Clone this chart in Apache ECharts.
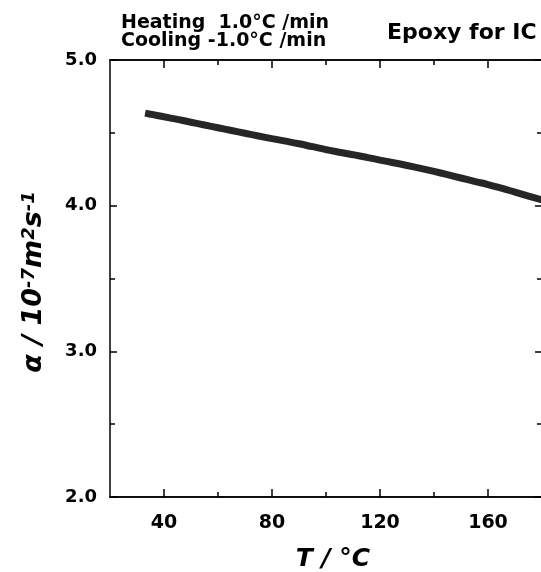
<!DOCTYPE html>
<html>
<head>
<meta charset="utf-8">
<script src="https://cdn.jsdelivr.net/npm/echarts@6/dist/echarts.min.js"></script>
<style>
  html, body { margin: 0; padding: 0; background: #fff; }
  #chart { width: 541px; height: 572px; }
</style>
</head>
<body>
<div id="chart"></div>
<script>
// temperature (°C) and thermal diffusivity (10^-7 m^2/s)
var tempC = [33, 35, 40, 45, 50, 55, 60, 65, 70, 75, 80, 85, 90, 95, 100, 105,
  110, 115, 120, 125, 130, 135, 140, 145, 150, 155, 160, 165, 170, 175, 180];
var alpha = [4.635, 4.628, 4.610, 4.592, 4.573, 4.554, 4.535, 4.516, 4.497, 4.478,
  4.460, 4.443, 4.425, 4.405, 4.385, 4.367, 4.350, 4.332, 4.313, 4.295, 4.276,
  4.256, 4.235, 4.213, 4.190, 4.167, 4.145, 4.120, 4.093, 4.066, 4.040];

var xMajorTicks = [40, 80, 120, 160];
var xMinorTicks = [60, 100, 140];
var yTicks = [2.0, 3.0, 4.0, 5.0];

var titleLines = ['Heating  1.0°C /min', 'Cooling -1.0°C /min'];
var sampleName = 'Epoxy for IC';

var seriesData = [];
for (var i = 0; i < tempC.length; i++) {
  seriesData.push([tempC[i], alpha[i]]);
}

var labelFont = {
  color: '#000',
  fontFamily: 'DejaVu Sans',
  fontWeight: 'bold'
};

function xAxisOf(pos, values, len, withLabels) {
  return {
    type: 'value',
    position: pos,
    min: 20,
    max: 180,
    axisLine: { show: true, lineStyle: { color: '#000', width: 1.5 } },
    axisTick: {
      inside: true,
      length: len,
      customValues: values,
      lineStyle: { color: '#000', width: 1.5 }
    },
    axisLabel: withLabels ? Object.assign({
      customValues: values,
      fontSize: 19,
      margin: 17
    }, labelFont) : { show: false },
    splitLine: { show: false }
  };
}

var xBottom = xAxisOf('bottom', xMajorTicks, 8, true);
xBottom.name = 'T / °C';
xBottom.nameLocation = 'middle';
xBottom.nameGap = 50;
xBottom.nameTextStyle = {
  color: '#000',
  fontFamily: 'DejaVu Sans',
  fontWeight: 'bold',
  fontStyle: 'italic',
  fontSize: 25,
  padding: [0, 0, 0, 14]
};

function yAxisOf(pos, withLabels) {
  return {
    type: 'value',
    position: pos,
    min: yTicks[0],
    max: yTicks[yTicks.length - 1],
    interval: 1,
    axisLine: { show: true, lineStyle: { color: '#000', width: 1.5 } },
    axisTick: { inside: true, length: 7, lineStyle: { color: '#000', width: 1.5 } },
    minorTick: { show: true, splitNumber: 2, length: 5, lineStyle: { color: '#000', width: 1.5 } },
    axisLabel: withLabels ? Object.assign({
      fontSize: 18,
      margin: 13,
      formatter: function (v) { return v.toFixed(1); }
    }, labelFont) : { show: false },
    splitLine: { show: false },
    minorSplitLine: { show: false }
  };
}

var chart = echarts.init(document.getElementById('chart'));
chart.setOption({
  animation: false,
  backgroundColor: '#fff',
  grid: { left: 110, top: 60, width: 432, height: 437, outerBoundsMode: 'none' },
  xAxis: [
    xBottom,
    xAxisOf('bottom', xMinorTicks, 5, false),
    xAxisOf('top', xMajorTicks, 8, false),
    xAxisOf('top', xMinorTicks, 5, false)
  ],
  yAxis: [yAxisOf('left', true), yAxisOf('right', false)],
  graphic: [
    {
      type: 'text', x: 121, y: 23,
      style: { text: titleLines[0], fill: '#000', font: 'bold 19px "DejaVu Sans"', verticalAlign: 'middle' }
    },
    {
      type: 'text', x: 121, y: 41,
      style: { text: titleLines[1], fill: '#000', font: 'bold 19px "DejaVu Sans"', verticalAlign: 'middle' }
    },
    {
      type: 'text', x: 387, y: 33,
      style: { text: sampleName, fill: '#000', font: 'bold 22px "DejaVu Sans"', verticalAlign: 'middle' }
    },
    {
      type: 'text', x: 34, y: 282, rotation: Math.PI / 2,
      style: {
        text: '{m|α / 10}{s|-7}{m|m}{s|2}{m|s}{s|-1}',
        align: 'center',
        verticalAlign: 'middle',
        rich: {
          m: { fontFamily: 'DejaVu Sans', fontWeight: 'bold', fontStyle: 'italic', fontSize: 27, fill: '#000' },
          s: { fontFamily: 'DejaVu Sans', fontWeight: 'bold', fontStyle: 'italic', fontSize: 18, fill: '#000', verticalAlign: 'top' }
        }
      }
    }
  ],
  series: [
    {
      type: 'line',
      xAxisIndex: 0,
      yAxisIndex: 0,
      data: seriesData,
      showSymbol: false,
      smooth: true,
      lineStyle: { color: '#262626', width: 7 }
    }
  ]
});
</script>
</body>
</html>
